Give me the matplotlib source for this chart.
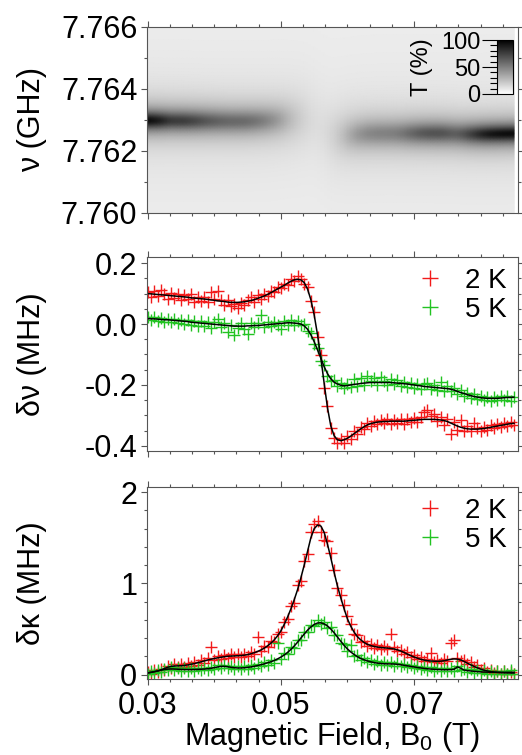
import matplotlib
matplotlib.use('Agg')
import matplotlib.pyplot as plt
import numpy as np
from matplotlib.ticker import MultipleLocator, FixedLocator, FormatStrFormatter

plt.rcParams['font.family'] = ['Liberation Sans', 'DejaVu Sans']
plt.rcParams['mathtext.default'] = 'regular'
plt.rcParams['axes.unicode_minus'] = False

# magnetic field sweep, B0 (T)
field = [
    0.0300, 0.0305, 0.0310, 0.0315, 0.0320, 0.0325, 0.0330, 0.0335, 0.0340, 0.0345,
    0.0350, 0.0355, 0.0360, 0.0365, 0.0370, 0.0375, 0.0380, 0.0385, 0.0390, 0.0395,
    0.0400, 0.0405, 0.0410, 0.0415, 0.0420, 0.0425, 0.0430, 0.0435, 0.0440, 0.0445,
    0.0450, 0.0455, 0.0460, 0.0465, 0.0470, 0.0475, 0.0480, 0.0485, 0.0490, 0.0495,
    0.0500, 0.0505, 0.0510, 0.0515, 0.0520, 0.0525, 0.0530, 0.0535, 0.0540, 0.0545,
    0.0550, 0.0555, 0.0560, 0.0565, 0.0570, 0.0575, 0.0580, 0.0585, 0.0590, 0.0595,
    0.0600, 0.0605, 0.0610, 0.0615, 0.0620, 0.0625, 0.0630, 0.0635, 0.0640, 0.0645,
    0.0650, 0.0655, 0.0660, 0.0665, 0.0670, 0.0675, 0.0680, 0.0685, 0.0690, 0.0695,
    0.0700, 0.0705, 0.0710, 0.0715, 0.0720, 0.0725, 0.0730, 0.0735, 0.0740, 0.0745,
    0.0750, 0.0755, 0.0760, 0.0765, 0.0770, 0.0775, 0.0780, 0.0785, 0.0790, 0.0795,
    0.0800, 0.0805, 0.0810, 0.0815, 0.0820, 0.0825, 0.0830, 0.0835, 0.0840, 0.0845,
    0.0850]

# frequency shift (MHz), measured and fitted
dnu_2k = [
    0.104, 0.089, 0.108, 0.093, 0.112, 0.097, 0.083, 0.101, 0.087, 0.098,
    0.079, 0.094, 0.082, 0.097, 0.073, 0.089, 0.077, 0.088, 0.072, 0.104,
    0.083, 0.109, 0.078, 0.062, 0.080, 0.058, 0.066, 0.052, 0.068, 0.061,
    0.079, 0.088, 0.071, 0.094, 0.083, 0.099, 0.093, 0.110, 0.104, 0.121,
    0.117, 0.131, 0.129, 0.147, 0.141, 0.158, 0.149, 0.132, 0.121, 0.074,
    0.041, -0.041, -0.102, -0.210, -0.268, -0.342, -0.375, -0.392, -0.378, -0.390,
    -0.368, -0.376, -0.352, -0.361, -0.338, -0.345, -0.324, -0.334, -0.318, -0.329,
    -0.315, -0.326, -0.312, -0.327, -0.314, -0.324, -0.311, -0.328, -0.313, -0.322,
    -0.309, -0.321, -0.306, -0.290, -0.281, -0.302, -0.295, -0.318, -0.306, -0.331,
    -0.311, -0.360, -0.322, -0.348, -0.315, -0.350, -0.336, -0.352, -0.325, -0.340,
    -0.350, -0.337, -0.348, -0.332, -0.341, -0.329, -0.338, -0.326, -0.334, -0.321,
    -0.331]
dnu_2k_fit = [
    0.100, 0.099, 0.098, 0.097, 0.096, 0.095, 0.094, 0.093, 0.092, 0.091,
    0.090, 0.089, 0.088, 0.086, 0.085, 0.084, 0.083, 0.082, 0.081, 0.079,
    0.078, 0.076, 0.075, 0.074, 0.072, 0.071, 0.071, 0.071, 0.072, 0.073,
    0.075, 0.077, 0.080, 0.084, 0.088, 0.092, 0.097, 0.103, 0.109, 0.115,
    0.121, 0.127, 0.134, 0.140, 0.145, 0.147, 0.145, 0.136, 0.115, 0.080,
    0.030, -0.035, -0.110, -0.195, -0.275, -0.335, -0.367, -0.380, -0.383, -0.380,
    -0.375, -0.368, -0.360, -0.352, -0.344, -0.337, -0.331, -0.327, -0.324, -0.322,
    -0.321, -0.320, -0.320, -0.319, -0.319, -0.319, -0.319, -0.319, -0.318, -0.317,
    -0.316, -0.315, -0.314, -0.313, -0.313, -0.313, -0.313, -0.314, -0.315, -0.317,
    -0.320, -0.325, -0.330, -0.335, -0.339, -0.342, -0.344, -0.345, -0.345, -0.345,
    -0.344, -0.343, -0.341, -0.339, -0.337, -0.335, -0.333, -0.331, -0.329, -0.327,
    -0.326]
dnu_5k = [
    0.022, 0.013, 0.024, 0.011, 0.019, 0.008, 0.017, 0.006, 0.015, 0.003,
    0.014, 0.001, 0.012, -0.004, 0.009, -0.008, 0.010, -0.005, 0.008, -0.012,
    0.006, 0.018, -0.010, 0.004, -0.026, -0.003, -0.037, -0.012, 0.002, -0.018,
    -0.034, 0.004, -0.011, 0.003, 0.031, -0.009, 0.006, -0.007, 0.008, -0.004,
    -0.015, 0.011, -0.002, 0.012, -0.003, 0.009, -0.004, 0.001, -0.024, -0.029,
    -0.066, -0.078, -0.121, -0.133, -0.171, -0.186, -0.184, -0.205, -0.194, -0.211,
    -0.196, -0.208, -0.182, -0.204, -0.176, -0.201, -0.171, -0.188, -0.178, -0.199,
    -0.175, -0.186, -0.201, -0.180, -0.196, -0.184, -0.203, -0.190, -0.206, -0.193,
    -0.209, -0.196, -0.212, -0.198, -0.192, -0.214, -0.201, -0.217, -0.190, -0.220,
    -0.205, -0.221, -0.209, -0.229, -0.218, -0.236, -0.226, -0.243, -0.231, -0.246,
    -0.236, -0.251, -0.239, -0.252, -0.238, -0.250, -0.236, -0.249, -0.235, -0.252,
    -0.238]
dnu_5k_fit = [
    0.018, 0.017, 0.017, 0.016, 0.015, 0.014, 0.014, 0.013, 0.012, 0.011,
    0.010, 0.009, 0.008, 0.006, 0.005, 0.004, 0.003, 0.002, 0.001, 0.000,
    -0.001, -0.002, -0.003, -0.004, -0.005, -0.006, -0.007, -0.007, -0.007, -0.007,
    -0.006, -0.006, -0.005, -0.005, -0.004, -0.003, -0.002, -0.001, 0.000, 0.001,
    0.002, 0.003, 0.004, 0.004, 0.003, 0.002, 0.000, -0.006, -0.017, -0.035,
    -0.058, -0.085, -0.112, -0.140, -0.163, -0.180, -0.191, -0.197, -0.201, -0.203,
    -0.202, -0.200, -0.198, -0.197, -0.195, -0.194, -0.193, -0.192, -0.192, -0.192,
    -0.192, -0.192, -0.192, -0.192, -0.193, -0.194, -0.195, -0.196, -0.197, -0.199,
    -0.200, -0.202, -0.203, -0.205, -0.206, -0.207, -0.208, -0.209, -0.210, -0.211,
    -0.212, -0.214, -0.217, -0.221, -0.225, -0.228, -0.232, -0.235, -0.238, -0.240,
    -0.242, -0.243, -0.244, -0.244, -0.244, -0.244, -0.243, -0.242, -0.241, -0.241,
    -0.240]

# linewidth change (MHz), measured and fitted
dk_2k = [
    0.030, 0.012, 0.051, 0.028, 0.065, 0.048, 0.097, 0.072, 0.112, 0.081,
    0.118, 0.086, 0.124, 0.097, 0.139, 0.110, 0.157, 0.131, 0.178, 0.305,
    0.158, 0.202, 0.171, 0.214, 0.183, 0.221, 0.190, 0.228, 0.195, 0.231,
    0.203, 0.248, 0.226, 0.410, 0.262, 0.310, 0.298, 0.372, 0.361, 0.448,
    0.462, 0.578, 0.612, 0.755, 0.790, 0.985, 1.030, 1.250, 1.320, 1.560,
    1.650, 1.680, 1.560, 1.480, 1.460, 1.330, 1.150, 0.950, 0.870, 0.760,
    0.640, 0.560, 0.440, 0.430, 0.360, 0.372, 0.315, 0.340, 0.292, 0.320,
    0.285, 0.318, 0.276, 0.440, 0.300, 0.254, 0.272, 0.230, 0.248, 0.196,
    0.216, 0.170, 0.195, 0.148, 0.175, 0.240, 0.134, 0.160, 0.131, 0.170,
    0.146, 0.350, 0.380, 0.182, 0.150, 0.160, 0.118, 0.135, 0.082, 0.100,
    0.052, 0.070, 0.033, 0.050, 0.018, 0.040, 0.012, 0.035, 0.010, 0.030,
    0.008]
dk_2k_fit = [
    0.018, 0.025, 0.032, 0.040, 0.052, 0.066, 0.080, 0.090, 0.094, 0.096,
    0.097, 0.100, 0.106, 0.113, 0.120, 0.130, 0.140, 0.150, 0.160, 0.168,
    0.176, 0.184, 0.190, 0.196, 0.201, 0.203, 0.205, 0.207, 0.209, 0.213,
    0.219, 0.229, 0.240, 0.254, 0.270, 0.290, 0.315, 0.345, 0.380, 0.425,
    0.480, 0.550, 0.630, 0.720, 0.820, 0.930, 1.060, 1.200, 1.350, 1.500,
    1.600, 1.640, 1.630, 1.560, 1.430, 1.280, 1.120, 0.970, 0.840, 0.720,
    0.610, 0.530, 0.465, 0.415, 0.380, 0.352, 0.332, 0.318, 0.309, 0.302,
    0.297, 0.294, 0.291, 0.287, 0.281, 0.272, 0.259, 0.243, 0.225, 0.208,
    0.193, 0.180, 0.168, 0.159, 0.153, 0.149, 0.147, 0.146, 0.147, 0.152,
    0.160, 0.168, 0.172, 0.170, 0.160, 0.145, 0.125, 0.107, 0.090, 0.074,
    0.060, 0.048, 0.040, 0.033, 0.028, 0.025, 0.022, 0.020, 0.019, 0.018,
    0.017]
dk_5k = [
    0.010, 0.035, 0.020, 0.052, 0.030, 0.066, 0.045, 0.078, 0.048, 0.070,
    0.041, 0.068, 0.038, 0.072, 0.043, 0.070, 0.046, 0.075, 0.050, 0.083,
    0.061, 0.100, 0.072, 0.108, 0.070, 0.095, 0.058, 0.090, 0.056, 0.093,
    0.062, 0.101, 0.074, 0.118, 0.090, 0.135, 0.108, 0.158, 0.130, 0.350,
    0.175, 0.236, 0.222, 0.298, 0.290, 0.381, 0.382, 0.470, 0.470, 0.548,
    0.530, 0.600, 0.552, 0.580, 0.512, 0.522, 0.438, 0.430, 0.345, 0.338,
    0.262, 0.330, 0.203, 0.214, 0.160, 0.180, 0.134, 0.158, 0.115, 0.144,
    0.105, 0.136, 0.100, 0.134, 0.098, 0.130, 0.090, 0.118, 0.079, 0.106,
    0.068, 0.096, 0.057, 0.086, 0.047, 0.078, 0.040, 0.074, 0.038, 0.071,
    0.036, 0.070, 0.044, 0.098, 0.052, 0.066, 0.028, 0.056, 0.020, 0.050,
    0.014, 0.045, 0.012, 0.042, 0.010, 0.044, 0.008, 0.040, 0.012, 0.046,
    0.010]
dk_5k_fit = [
    0.018, 0.025, 0.032, 0.040, 0.048, 0.055, 0.060, 0.062, 0.061, 0.059,
    0.057, 0.056, 0.055, 0.055, 0.056, 0.057, 0.059, 0.061, 0.064, 0.069,
    0.076, 0.084, 0.090, 0.091, 0.086, 0.080, 0.076, 0.073, 0.073, 0.075,
    0.079, 0.084, 0.091, 0.099, 0.108, 0.118, 0.129, 0.141, 0.155, 0.172,
    0.192, 0.215, 0.243, 0.276, 0.313, 0.355, 0.400, 0.445, 0.487, 0.522,
    0.550, 0.566, 0.568, 0.556, 0.533, 0.500, 0.458, 0.412, 0.365, 0.320,
    0.281, 0.248, 0.220, 0.196, 0.177, 0.162, 0.150, 0.140, 0.132, 0.126,
    0.122, 0.119, 0.118, 0.117, 0.116, 0.113, 0.108, 0.102, 0.096, 0.090,
    0.084, 0.078, 0.073, 0.068, 0.064, 0.061, 0.058, 0.056, 0.055, 0.054,
    0.054, 0.055, 0.058, 0.085, 0.070, 0.050, 0.044, 0.040, 0.036, 0.033,
    0.030, 0.028, 0.027, 0.026, 0.026, 0.025, 0.025, 0.025, 0.025, 0.025,
    0.025]

# resonator parameters for the transmission map (2 K)
f_res = 7.7629      # GHz, bare resonance
kappa_0 = 0.6       # MHz, bare linewidth
t_background = 7.0  # %, off-resonance level

RED = '#f21a1a'
GREEN = '#22c322'
FRAME = '#555555'
XMIN, XMAX = 0.0299, 0.0856


def style_axes(ax):
    for s in ax.spines.values():
        s.set_color(FRAME)
        s.set_linewidth(0.8)
    ax.tick_params(which='both', direction='out', top=True, right=True,
                   color=FRAME, width=0.8, labelsize=22)
    ax.tick_params(which='major', length=4, pad=3)
    ax.tick_params(which='minor', length=2)
    ax.xaxis.set_major_locator(MultipleLocator(0.02, offset=0.01))
    ax.xaxis.set_minor_locator(MultipleLocator(0.02 / 6))
    ax.xaxis.set_major_formatter(FormatStrFormatter('%.2f'))
    ax.set_xlim(XMIN, XMAX)
    ax.yaxis.set_label_coords(-0.27, 0.5)


def data_panel(ax, y2, y2fit, y5, y5fit):
    l2, = ax.plot(field, y2, '+', color=RED, ms=8, mew=1.0, label='2 K')
    l5, = ax.plot(field, y5, '+', color=GREEN, ms=8, mew=1.0, label='5 K')
    ax.plot(field, y2fit, '-', color='k', lw=1.1)
    ax.plot(field, y5fit, '-', color='k', lw=1.1)
    ax.legend(handles=[l2, l5], loc='upper right', frameon=False, fontsize=20,
              markerscale=1.5, handlelength=1.0, handletextpad=0.75,
              labelspacing=0.1, borderpad=0.1, borderaxespad=0.3)


fig = plt.figure(figsize=(5.22, 7.55), dpi=100)
ax_map = fig.add_axes([0.2816, 0.7179, 0.7107, 0.2464])
ax_nu = fig.add_axes([0.2816, 0.4026, 0.7107, 0.2570])
ax_k = fig.add_axes([0.2816, 0.1007, 0.7107, 0.2543])

# transmission map built from the 2 K fit
freq = np.linspace(7.760, 7.766, 241)
kappa = kappa_0 + np.array(dk_2k_fit)
f0 = f_res + np.array(dnu_2k_fit) / 1000.0
detune = (freq[:, None] - f0[None, :]) * 1000.0
trans = t_background + (100 - t_background) * (kappa_0 / kappa) ** 2 / (1 + (2 * detune / kappa) ** 2)
mesh = ax_map.pcolormesh(field, freq, trans, shading='gouraud', cmap='gray_r', vmin=0, vmax=100)
style_axes(ax_map)
ax_map.set_ylim(7.760, 7.766)
ax_map.yaxis.set_major_locator(FixedLocator([7.760, 7.762, 7.764, 7.766]))
ax_map.yaxis.set_minor_locator(MultipleLocator(0.001))
ax_map.yaxis.set_major_formatter(FormatStrFormatter('%.3f'))
ax_map.tick_params(axis='x', labelbottom=False)
ax_map.set_ylabel('ν (GHz)', fontsize=22)

cax = fig.add_axes([0.952, 0.8755, 0.0307, 0.0715])
cb = fig.colorbar(mesh, cax=cax)
cb.outline.set_linewidth(0.8)
cb.set_ticks([0, 50, 100])
cax.yaxis.set_ticks_position('left')
cax.yaxis.set_label_position('left')
cax.yaxis.set_minor_locator(MultipleLocator(10))
cax.tick_params(which='major', length=11, width=0.8, pad=1, labelsize=17)
cax.tick_params(which='minor', length=5, width=0.8)
cax.set_ylabel('T (%)', fontsize=17)
cax.yaxis.set_label_coords(-4.0, 0.5)

# frequency shift
data_panel(ax_nu, dnu_2k, dnu_2k_fit, dnu_5k, dnu_5k_fit)
style_axes(ax_nu)
ax_nu.set_ylim(-0.417, 0.22)
ax_nu.yaxis.set_major_locator(FixedLocator([-0.4, -0.2, 0.0, 0.2]))
ax_nu.yaxis.set_minor_locator(MultipleLocator(0.05))
ax_nu.yaxis.set_major_formatter(FormatStrFormatter('%.1f'))
ax_nu.tick_params(axis='x', labelbottom=False)
ax_nu.set_ylabel('δν (MHz)', fontsize=22)

# linewidth
data_panel(ax_k, dk_2k, dk_2k_fit, dk_5k, dk_5k_fit)
style_axes(ax_k)
ax_k.set_ylim(-0.048, 2.058)
ax_k.yaxis.set_major_locator(FixedLocator([0, 1, 2]))
ax_k.yaxis.set_minor_locator(MultipleLocator(0.2))
ax_k.yaxis.set_major_formatter(FormatStrFormatter('%.0f'))
ax_k.tick_params(axis='x', pad=5)
ax_k.set_ylabel('δκ (MHz)', fontsize=22)
ax_k.set_xlabel('Magnetic Field, B$_0$ (T)', fontsize=22)
ax_k.xaxis.set_label_coords(0.5, -0.214)

fig.savefig('out.png', dpi=100)
